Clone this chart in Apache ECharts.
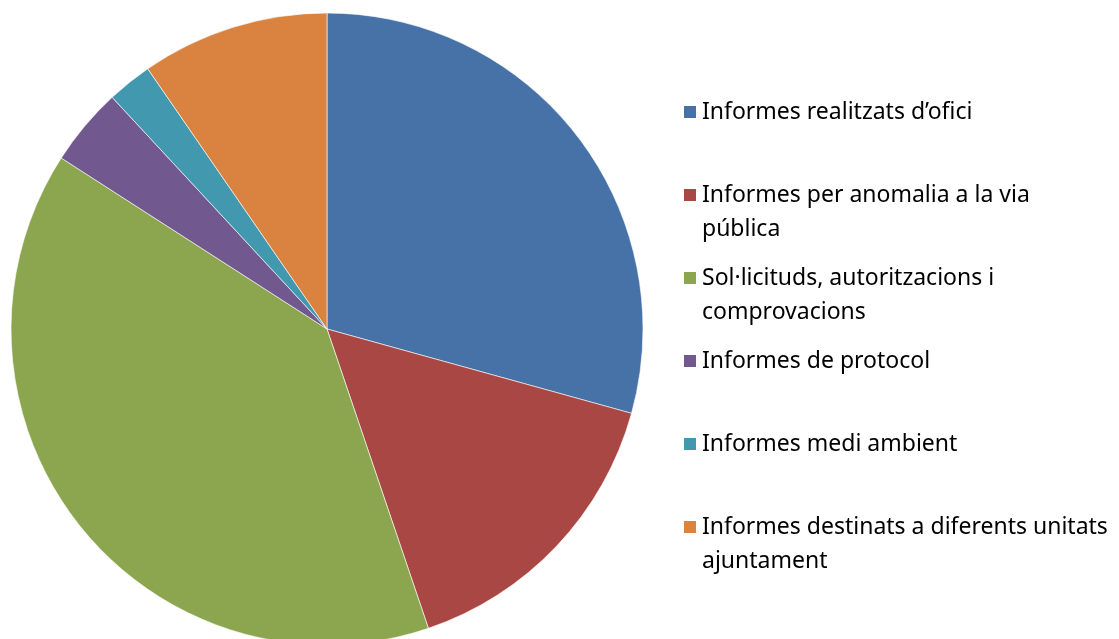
<!DOCTYPE html>
<html>
<head>
<meta charset="utf-8">
<script src="https://cdn.jsdelivr.net/npm/echarts@6/dist/echarts.min.js"></script>
<style>
  html, body { margin: 0; padding: 0; background: #fff; }
  #pie_chart { width: 1119px; height: 639px; }
</style>
</head>
<body>
<div id="pie_chart"></div>
<script>
    const category_names = [
        'Informes realitzats d’ofici',
        'Informes per anomalia a la via pública',
        'Sol·licituds, autoritzacions i comprovacions',
        'Informes de protocol',
        'Informes medi ambient',
        'Informes destinats a diferents unitats ajuntament'
    ]
    const legend_labels = [
        'Informes realitzats d’ofici',
        'Informes per anomalia a la via\npública',
        'Sol·licituds, autoritzacions i\ncomprovacions',
        'Informes de protocol',
        'Informes medi ambient',
        'Informes destinats a diferents unitats\najuntament'
    ]
    const slice_values = [29.3, 15.5, 39.3, 4.0, 2.3, 9.6]
    const slice_colors = ['#4672A8', '#A94744', '#8BA64F', '#71588F', '#4298AF', '#DA8240']

    let pie_chart = echarts.init(document.getElementById('pie_chart'))

    const line_h = 34
    const legend_list = category_names.map((name, index) => {
        const center_y = 112 + index * 83
        const two_lines = legend_labels[index].indexOf('\n') >= 0
        return {
            orient: 'vertical',
            left: 682,
            top: two_lines ? center_y - line_h * 1.5 : center_y - line_h / 2,
            padding: 0,
            itemWidth: 14,
            itemHeight: 14,
            itemGap: 0,
            icon: 'rect',
            selectedMode: false,
            data: [name],
            formatter: function () {
                // an empty first line keeps the icon level with the first text line
                return two_lines ? ' \n' + legend_labels[index] : legend_labels[index]
            },
            textStyle: {
                fontFamily: 'Noto Sans',
                fontSize: 23,
                color: '#000',
                lineHeight: line_h
            }
        }
    })

    let pie_option = {
        animation: false,
        color: slice_colors,
        legend: legend_list,
        series: [
            {
                type: 'pie',
                center: [327, 329],
                radius: 316,
                startAngle: 90,
                clockwise: true,
                label: {show: false},
                labelLine: {show: false},
                emphasis: {disabled: true},
                itemStyle: {borderColor: '#fff', borderWidth: 0.6},
                data: category_names.map((name, index) => {
                    return {name: name, value: slice_values[index]}
                })
            }
        ]
    }

    pie_chart.setOption(pie_option)
</script>
</body>
</html>
